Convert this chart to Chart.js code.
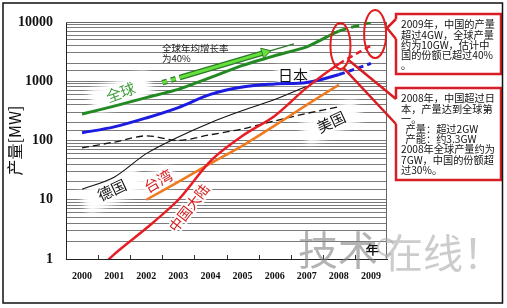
<!DOCTYPE html>
<html>
<head>
<meta charset="utf-8">
<script src="https://cdn.jsdelivr.net/npm/chart.js@4.4.0/dist/chart.umd.min.js"></script>
<style>
html, body { margin: 0; padding: 0; background: #fff; }
#wrap { width: 507px; height: 308px; position: relative; }
</style>
</head>
<body>
<div id="wrap"><canvas id="chartId"></canvas></div>
<script>
const ctx = document.getElementById('chartId').getContext('2d');

// production in MW (log scale)
const years = [2000, 2001, 2002, 2003, 2004, 2005, 2006, 2007, 2008, 2009];
const globalMW  = [280, 380, 530, 730, 1150, 1850, 2700, 3800, 7000, 10000];
const japanMW   = [135, 170, 240, 360, 600, 800, 900, 950, 1300, 2000];
const germanyMW = [15, 24, 60, 115, 200, 320, 490, 820, null, null];
const usaMW     = [75, 94, 120, 100, 125, 157, 214, 287, 370, null];
const taiwanMW  = [null, null, 10, 20, 41, 82, 178, 400, 870, null];
const chinaMW   = [0.35, 1.2, 3.3, 10, 45, 120, 260, 780, 1950, 4000];
const yTicks = [1, 10, 100, 1000, 10000];

// the "40% a year" arrow
const growthYears = [2002.5, 2003.1, 2005.7];
const growthMW    = [945, 1180, 3070];
const tailYears   = [2005.7, 2006.6];
const tailMW      = [3070, 4270];

const pts = arr => years.map((yr, i) => ({ x: yr, y: arr[i] }));
const pair = (xs, ys) => xs.map((x, i) => ({ x: x, y: ys[i] }));
// 2008 -> 2009 is an estimate, drawn dashed
const dashFrom = (idx, dash) => ({ borderDash: c => c.p0DataIndex >= idx ? dash : undefined });

const notes = [
    { text: '全球', year: 2001.2, mw: 650, angle: -20, color: '#3c9c3c', size: 15, blob: [62, 26] },
    { text: '日本', year: 2006.57, mw: 1275, angle: 0, color: '#111', size: 15, blob: [34, 18] },
    { text: '美国', year: 2007.76, mw: 205, angle: -25, color: '#111', size: 15, blob: [60, 24] },
    { text: '德国', year: 2000.93, mw: 14.6, angle: -25, color: '#111', size: 15, blob: [62, 26] },
    { text: '台湾', year: 2002.37, mw: 20.7, angle: -30, color: '#d42020', size: 15, blob: [34, 20] },
    { text: '中国大陆', year: 2003.33, mw: 7.3, angle: -52, color: '#d42020', size: 14, blob: [0, 0] }
];

const box1 = ['2009年，中国的产量', '超过4GW，全球产量', '约为10GW，估计中', '国的份额已超过40%', '。'];
const box2 = ['2008年，中国超过日', '本，产量达到全球第', '一。', '  产量：超过2GW', '  产能：约3.3GW',
    '2008年全球产量约为', '7GW，中国的份额超', '过30%。'];

const cjk = '"Noto Sans CJK SC", "Noto Sans", sans-serif';

const decor = {
    id: 'decor',
    beforeDraw(chart) {
        const c = chart.ctx;
        c.save();
        c.fillStyle = '#fff';
        c.fillRect(0, 0, chart.width, chart.height);
        c.restore();
    },
    beforeDatasetsDraw(chart) {
        const c = chart.ctx;
        const xs = chart.scales.x, ys = chart.scales.y;
        const a = chart.chartArea;
        c.save();
        // right and top frame of the plot
        c.strokeStyle = '#666';
        c.lineWidth = 1;
        c.beginPath();
        c.moveTo(a.left, a.top + 0.5);
        c.lineTo(a.right - 0.5, a.top + 0.5);
        c.lineTo(a.right - 0.5, a.bottom);
        c.stroke();
        // little ticks between the years
        c.strokeStyle = '#333';
        years.slice(0, -1).forEach(yr => {
            const px = Math.round(xs.getPixelForValue(yr + 0.5)) + 0.5;
            c.beginPath();
            c.moveTo(px, a.bottom);
            c.lineTo(px, a.bottom - 4);
            c.stroke();
        });
        // white halos and the series names
        notes.forEach(n => {
            const px = xs.getPixelForValue(n.year), py = ys.getPixelForValue(n.mw);
            c.save();
            c.translate(px, py);
            c.rotate(n.angle * Math.PI / 180);
            if (n.blob[0]) {
                c.filter = 'blur(3px)';
                c.fillStyle = '#fff';
                c.fillRect(-n.blob[0] / 2, -n.blob[1] / 2, n.blob[0], n.blob[1]);
                c.filter = 'none';
            }
            c.font = n.size + 'px ' + cjk;
            c.textAlign = 'center';
            c.textBaseline = 'middle';
            c.lineWidth = 4;
            c.strokeStyle = 'rgba(255,255,255,0.9)';
            c.strokeText(n.text, 0, 0);
            c.fillStyle = n.color;
            c.fillText(n.text, 0, 0);
            c.restore();
        });
        // growth note
        c.font = '9.5px ' + cjk;
        c.fillStyle = '#222';
        c.textBaseline = 'middle';
        const gx = xs.getPixelForValue(2002.49), gy = ys.getPixelForValue(3640);
        c.fillText('全球年均增长率', gx, gy);
        c.fillText('为40%', gx, gy + 10.5);
        c.restore();
    },
    afterDatasetsDraw(chart) {
        const c = chart.ctx;
        const xs = chart.scales.x, ys = chart.scales.y;
        c.save();
        c.strokeStyle = '#e01e1e';
        c.lineWidth = 2;
        // ellipses on 2008 and 2009
        const e1x = xs.getPixelForValue(2008.05), e1y = ys.getPixelForValue(3940);
        const e2x = xs.getPixelForValue(2009.13), e2y = ys.getPixelForValue(6270);
        c.beginPath();
        c.ellipse(e1x, e1y, 10, 23, 0, 0, Math.PI * 2);
        c.stroke();
        c.beginPath();
        c.ellipse(e2x, e2y, 11, 24, 0, 0, Math.PI * 2);
        c.stroke();

        const callout = (x, y, w, h, lines, gap0, gap1, tx, ty, tx2, ty2) => {
            c.fillStyle = '#fff';
            c.fillRect(x, y, w, h);
            c.lineWidth = 2.5;
            c.strokeStyle = '#d81e24';
            c.strokeRect(x, y, w, h);
            c.fillStyle = '#fff';
            c.fillRect(x - 2, gap0, 4, gap1 - gap0);
            c.beginPath();
            c.moveTo(x, gap0);
            c.lineTo(tx, ty);
            c.moveTo(tx2, ty2);
            c.lineTo(x, gap1);
            c.stroke();
            c.fillStyle = '#111';
            c.font = '10.2px ' + cjk;
            c.textBaseline = 'middle';
            c.textAlign = 'left';
            lines.forEach((t, i) => c.fillText(t, x + 5, y + 10.5 + i * 10.2));
        };
        callout(396, 14, 105, 60, box1, 19, 39, 387, 28, 387, 28);
        callout(396, 88, 105, 92, box2, 99, 124, e1x + 8, e1y + 14, e1x + 3, e1y + 22);
        c.restore();
    },
    afterDraw(chart) {
        const c = chart.ctx;
        const a = chart.chartArea;
        c.save();
        c.font = 'bold 13px "Liberation Serif", serif';
        c.fillStyle = '#111';
        c.textAlign = 'center';
        c.textBaseline = 'middle';
        c.fillText('年', a.right - 15, a.bottom - 8);
        // watermark
        c.globalAlpha = 0.6;
        c.fillStyle = '#808080';
        c.font = '40px ' + cjk;
        c.textAlign = 'left';
        c.fillText('技术', 298, 250);
        c.fillStyle = '#aaaaaa';
        c.fillText('在线！', 383, 253);
        c.strokeStyle = '#aaaaaa';
        c.lineWidth = 2;
        c.beginPath();
        c.arc(386, 247, 8, 0.3 * Math.PI, 1.9 * Math.PI);
        c.stroke();
        c.globalAlpha = 1;
        // outer border of the picture
        c.strokeStyle = '#111';
        c.lineWidth = 1.5;
        c.strokeRect(3, 3, 499.5, 300);
        c.restore();
    }
};

const growthDash = { borderDash: c => c.p0DataIndex === 0 ? [5, 4] : undefined };

// first dataset is drawn on top
const data = {
    datasets: [
        { data: pair(growthYears, growthMW), borderColor: '#66e03a', borderWidth: 3, segment: growthDash,
          pointRadius: c => c.dataIndex === 2 ? 6 : 0, pointStyle: 'triangle', rotation: 74,
          pointBackgroundColor: '#66e03a', pointBorderColor: '#2a7a2a', pointBorderWidth: 1 },
        { data: pair(growthYears, growthMW), borderColor: '#2a7a2a', borderWidth: 5.5, segment: growthDash },
        { data: pair(tailYears, tailMW), borderColor: '#2a7a2a', borderWidth: 1.5 },
        { data: pts(chinaMW), borderColor: '#e81c24', borderWidth: 2.5, tension: 0.3, segment: dashFrom(8, [6, 4]) },
        { data: pts(globalMW), borderColor: '#238a23', borderWidth: 3, tension: 0.2, segment: dashFrom(8, [8, 5]) },
        { data: pts(japanMW), borderColor: '#1c1ce0', borderWidth: 3, tension: 0.35, segment: dashFrom(8, [6, 4]) },
        { data: pts(taiwanMW), borderColor: '#f07a1e', borderWidth: 2.5, tension: 0.2 },
        { data: pts(germanyMW), borderColor: '#111', borderWidth: 1.1, tension: 0.3 },
        { data: pts(usaMW), borderColor: '#111', borderWidth: 1.3, borderDash: [7, 4], tension: 0.3 }
    ]
};

const options = {
    responsive: true,
    maintainAspectRatio: false,
    animation: false,
    devicePixelRatio: 1,
    layout: { padding: { left: 0, right: 120, top: 22, bottom: 0 } },
    elements: { point: { radius: 0 }, line: { fill: false } },
    plugins: { legend: { display: false }, tooltip: { enabled: false } },
    scales: {
        x: {
            type: 'linear',
            min: 1999.5,
            max: 2009.5,
            afterBuildTicks: s => { s.ticks = years.map(v => ({ value: v })); },
            afterFit: s => { s.height = 49; },
            grid: { display: false, drawTicks: false },
            border: { color: '#222', width: 1 },
            ticks: {
                padding: 11,
                color: '#111',
                autoSkip: false,
                maxRotation: 0,
                font: { family: '"Liberation Serif", serif', size: 10, weight: 'bold' },
                callback: v => String(v)
            }
        },
        y: {
            type: 'logarithmic',
            min: 1,
            max: 10000,
            afterFit: s => { s.width = 66; },
            grid: { color: '#7a7a7a', lineWidth: 1, drawTicks: false },
            border: { color: '#222', width: 1 },
            title: {
                display: true,
                text: '产量[MW]',
                color: '#111',
                padding: { top: 5, bottom: 0 },
                font: { family: cjk, size: 16 }
            },
            ticks: {
                padding: 13,
                color: '#111',
                autoSkip: false,
                font: { family: '"Liberation Serif", serif', size: 14, weight: 'bold' },
                callback: v => yTicks.includes(v) ? String(v) : ''
            }
        }
    }
};

const chart = new Chart(ctx, {
    type: 'line',
    data: data,
    options: options,
    plugins: [decor]
});
</script>
</body>
</html>
